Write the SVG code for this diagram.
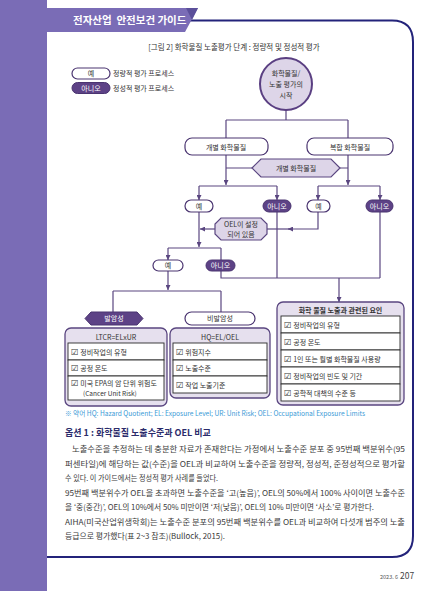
<svg xmlns="http://www.w3.org/2000/svg" width="444" height="591" viewBox="0 0 444 591">
<defs>
<style>
text{font-family:"Noto Sans CJK KR","Noto Sans",sans-serif;fill:#333;}
.t7{font-size:7px;text-anchor:middle;}
.tw{fill:#fff;}
.b{font-weight:bold;}
.ln{fill:none;stroke:#5a4680;stroke-width:1.2;}
.pw{fill:#fff;stroke:#4a3470;stroke-width:1.2;}
.pd{fill:#5d4286;stroke:#4a3470;stroke-width:1;}
.lav{fill:#ddd5e8;stroke:#5a4680;stroke-width:1.2;}
.box{fill:#e6e0ee;stroke:#5a4680;stroke-width:1.3;}
.row{fill:#fff;stroke:#2a2a2a;stroke-width:0.9;}
.ck{font-family:"DejaVu Sans",sans-serif;font-size:8.5px;font-weight:bold;}
.rt{font-size:7px;}
.body{font-size:8px;fill:#3a3a3a;}
</style>
<marker id="arr" viewBox="0 0 6 6" refX="6" refY="3" markerWidth="5" markerHeight="5" orient="auto" markerUnits="userSpaceOnUse">
<path d="M0,0 L6,3 L0,6 z" fill="#5a4680"/>
</marker>
</defs>

<!-- page chrome -->
<rect x="0" y="0" width="444" height="591" fill="#fff"/>
<rect x="0" y="0" width="47" height="591" fill="#7a6cb6"/>
<path d="M190,20.5 H392 Q413,20.5 413,42 V536 Q413,557 392,557 H47" fill="none" stroke="#23237a" stroke-width="2"/>
<polygon points="47,8 198,8 185,32 47,32" fill="#7a6cb6"/>
<polygon points="186,8 198,8 192,20" fill="#5b4f9a"/>
<text x="73" y="24" font-size="10.5" class="b" style="fill:#fff" xml:space="preserve">전자산업  안전보건 가이드</text>

<text x="234" y="50" font-size="7.5" text-anchor="middle">[그림 2] 화학물질 노출평가 단계 : 정량적 및 정성적 평가</text>

<!-- legend -->
<g id="legend">
<rect x="72" y="68" width="38" height="11" rx="5.5" class="pw"/>
<text x="91" y="76.3" class="t7">예</text>
<text x="113" y="76.3" font-size="7">정량적 평가 프로세스</text>
<rect x="72" y="82.5" width="38" height="11" rx="5.5" class="pd"/>
<text x="91" y="90.8" class="t7 tw">아니오</text>
<text x="113" y="90.8" font-size="7">정성적 평가 프로세스</text>
</g>

<!-- connectors -->
<g id="connectors">
<path class="ln" d="M286,110 V120 M226,120 H348 M226,120 V138 M348,120 V138"/>
<path class="ln" d="M226,155 V185" marker-end="url(#arr)"/>
<path class="ln" d="M348,155 V185" marker-end="url(#arr)"/>
<path class="ln" d="M226,168 H252 M340,168 H348"/>
<path class="ln" d="M199,186 H277 M318,186 H380"/>
<path class="ln" d="M199,186 V200" marker-end="url(#arr)"/>
<path class="ln" d="M277,186 V200" marker-end="url(#arr)"/>
<path class="ln" d="M318,186 V200" marker-end="url(#arr)"/>
<path class="ln" d="M380,186 V200" marker-end="url(#arr)"/>
<path class="ln" d="M199,212 V247" marker-end="url(#arr)"/>
<path class="ln" d="M215,229 H200" marker-end="url(#arr)"/>
<path class="ln" d="M318,212 V229 H288" marker-end="url(#arr)"/>
<path class="ln" d="M290,229 H267"/>
<path class="ln" d="M168,248 H221 M221,248 V260"/>
<path class="ln" d="M168,248 V260" marker-end="url(#arr)"/>
<path class="ln" d="M221,271 V278 H380 M277,212 V278 M380,212 V278"/>
<path class="ln" d="M339,278 V302" marker-end="url(#arr)"/>
<path class="ln" d="M168,271 V290" marker-end="url(#arr)"/>
<path class="ln" d="M113,291 H221 M113,291 V312 M221,291 V312"/>
</g>

<!-- nodes -->
<g id="start">
<circle cx="286" cy="84" r="26" fill="#ddd5e8" stroke="#5a3f82" stroke-width="2"/>
<text x="286" y="76" class="t7" font-size="7.5">화학물질/</text>
<text x="286" y="87" class="t7">노출 평가의</text>
<text x="286" y="98" class="t7">시작</text>
</g>
<g id="individual">
<rect x="185" y="138" width="83" height="17" rx="7" class="pw"/>
<text x="226" y="149.5" class="t7">개별 화학물질</text>
</g>
<g id="mixture">
<rect x="307" y="138" width="86" height="17" rx="7" class="pw"/>
<text x="350" y="149.5" class="t7">복합 화학물질</text>
</g>
<g id="as-individual">
<polygon points="252,168 261,159 331,159 340,168 331,177 261,177" class="lav"/>
<text x="296" y="170.5" class="t7">개별 화학물질</text>
</g>
<g id="yes1">
<rect x="185" y="200" width="28" height="12" rx="6" class="pw"/>
<text x="199" y="208.7" class="t7">예</text>
</g>
<g id="no1">
<rect x="263" y="200" width="28" height="12" rx="6" class="pd"/>
<text x="277" y="208.7" class="t7 tw">아니오</text>
</g>
<g id="yes2">
<rect x="307" y="200" width="23" height="12" rx="6" class="pw"/>
<text x="318.5" y="208.7" class="t7">예</text>
</g>
<g id="no2">
<rect x="366" y="200" width="27" height="12" rx="6" class="pd"/>
<text x="379.5" y="208.7" class="t7 tw">아니오</text>
</g>
<g id="oel">
<polygon points="221,218 261,218 267,224 267,234 261,240 221,240 215,234 215,224" class="lav"/>
<text x="241" y="227" class="t7">OEL이 설정</text>
<text x="241" y="236.5" class="t7">되어 있음</text>
</g>
<g id="yes3">
<rect x="153" y="260" width="30" height="11" rx="5.5" class="pw"/>
<text x="168" y="268.2" class="t7">예</text>
</g>
<g id="no3">
<rect x="206" y="260" width="29" height="11" rx="5.5" class="pd"/>
<text x="220.5" y="268.2" class="t7 tw">아니오</text>
</g>
<g id="carcinogenic">
<polygon points="85,318.5 91,312 137,312 143,318.5 137,325 91,325" class="pd"/>
<text x="114" y="321" class="t7 tw">발암성</text>
</g>
<g id="noncarcinogenic">
<rect x="185" y="312" width="70" height="13" rx="6.5" class="pw"/>
<text x="220" y="321" class="t7">비발암성</text>
</g>

<g id="ltcr">
<rect x="65" y="328" width="102" height="78" rx="6" class="box"/>
<text x="116" y="340" class="t7">LTCR=ELxUR</text>
<rect x="68" y="343" width="96" height="17" class="row"/>
<rect x="68" y="360" width="96" height="16" class="row"/>
<rect x="68" y="376" width="96" height="24" class="row"/>
<text x="71" y="354.5" class="rt"><tspan class="ck">☑</tspan> 정비작업의 유형</text>
<text x="71" y="370.5" class="rt"><tspan class="ck">☑</tspan> 공정 온도</text>
<text x="71" y="386" class="rt"><tspan class="ck">☑</tspan> 미국 EPA의 암 단위 위험도</text>
<text x="83" y="396" font-size="6.5">(Cancer Unit Risk)</text>
</g>

<g id="hq">
<rect x="170" y="328" width="100" height="70" rx="6" class="box"/>
<text x="220" y="340" class="t7">HQ=EL/OEL</text>
<rect x="173" y="343" width="94" height="17" class="row"/>
<rect x="173" y="360" width="94" height="16" class="row"/>
<rect x="173" y="376" width="94" height="17" class="row"/>
<text x="176" y="354.5" class="rt"><tspan class="ck">☑</tspan> 위험지수</text>
<text x="176" y="370.5" class="rt"><tspan class="ck">☑</tspan> 노출수준</text>
<text x="176" y="387.5" class="rt"><tspan class="ck">☑</tspan> 작업 노출기준</text>
</g>

<g id="factors">
<rect x="277" y="302" width="127" height="103" rx="6" class="box"/>
<text x="340.5" y="312.5" class="t7 b">화학 물질 노출과 관련된 요인</text>
<rect x="281" y="316" width="119" height="17" class="row"/>
<rect x="281" y="333" width="119" height="17" class="row"/>
<rect x="281" y="350" width="119" height="17" class="row"/>
<rect x="281" y="367" width="119" height="17" class="row"/>
<rect x="281" y="384" width="119" height="17" class="row"/>
<text x="284" y="327.5" class="rt"><tspan class="ck">☑</tspan> 정비작업의 유형</text>
<text x="284" y="344.5" class="rt"><tspan class="ck">☑</tspan> 공정 온도</text>
<text x="284" y="361.5" class="rt"><tspan class="ck">☑</tspan> 1인 또는 월별 화학물질 사용량</text>
<text x="284" y="378.5" class="rt"><tspan class="ck">☑</tspan> 정비작업의 빈도 및 기간</text>
<text x="284" y="395.5" class="rt"><tspan class="ck">☑</tspan> 공학적 대책의 수준 등</text>
</g>

<!-- notes and body -->
<text x="65" y="416" font-size="7" style="fill:#3a9ad6" textLength="300" lengthAdjust="spacingAndGlyphs">※ 약어 HQ: Hazard Quotient; EL: Exposure Level; UR: Unit Risk; OEL: Occupational Exposure Limits</text>
<text x="65" y="436" font-size="9" class="b" style="fill:#2b2b6b">옵션 1 : 화학물질 노출수준과 OEL 비교</text>
<text x="72" y="452" class="body" textLength="333" lengthAdjust="spacingAndGlyphs">노출수준을 추정하는 데 충분한 자료가 존재한다는 가정에서 노출수준 분포 중 95번째 백분위수(95</text>
<text x="65" y="466.5" class="body" textLength="340" lengthAdjust="spacingAndGlyphs">퍼센타일)에 해당하는 값(수준)을 OEL과 비교하여 노출수준을 정량적, 정성적, 준정성적으로 평가할</text>
<text x="65" y="481" class="body" textLength="153" lengthAdjust="spacingAndGlyphs">수 있다. 이 가이드에서는 정성적 평가 사례를 들었다.</text>
<text x="65" y="495.5" class="body" textLength="340" lengthAdjust="spacingAndGlyphs">95번째 백분위수가 OEL을 초과하면 노출수준을 ‘고(높음)’, OEL의 50%에서 100% 사이이면 노출수준</text>
<text x="65" y="510" class="body" textLength="309" lengthAdjust="spacingAndGlyphs">을 ‘중(중간)’, OEL의 10%에서 50% 미만이면 ‘저(낮음)’, OEL의 10% 미만이면 ‘사소’로 평가한다.</text>
<text x="65" y="524.5" class="body" textLength="340" lengthAdjust="spacingAndGlyphs">AIHA(미국산업위생학회)는 노출수준 분포의 95번째 백분위수를 OEL과 비교하여 다섯개 범주의 노출</text>
<text x="65" y="539" class="body" textLength="160" lengthAdjust="spacingAndGlyphs">등급으로 평가했다(표 2~3 참조)(Bullock, 2015).</text>

<text x="398" y="579" font-size="5.5" text-anchor="end" style="fill:#555">2023. 6</text>
<text x="400" y="579" font-size="8.5" style="fill:#444">207</text>
</svg>
